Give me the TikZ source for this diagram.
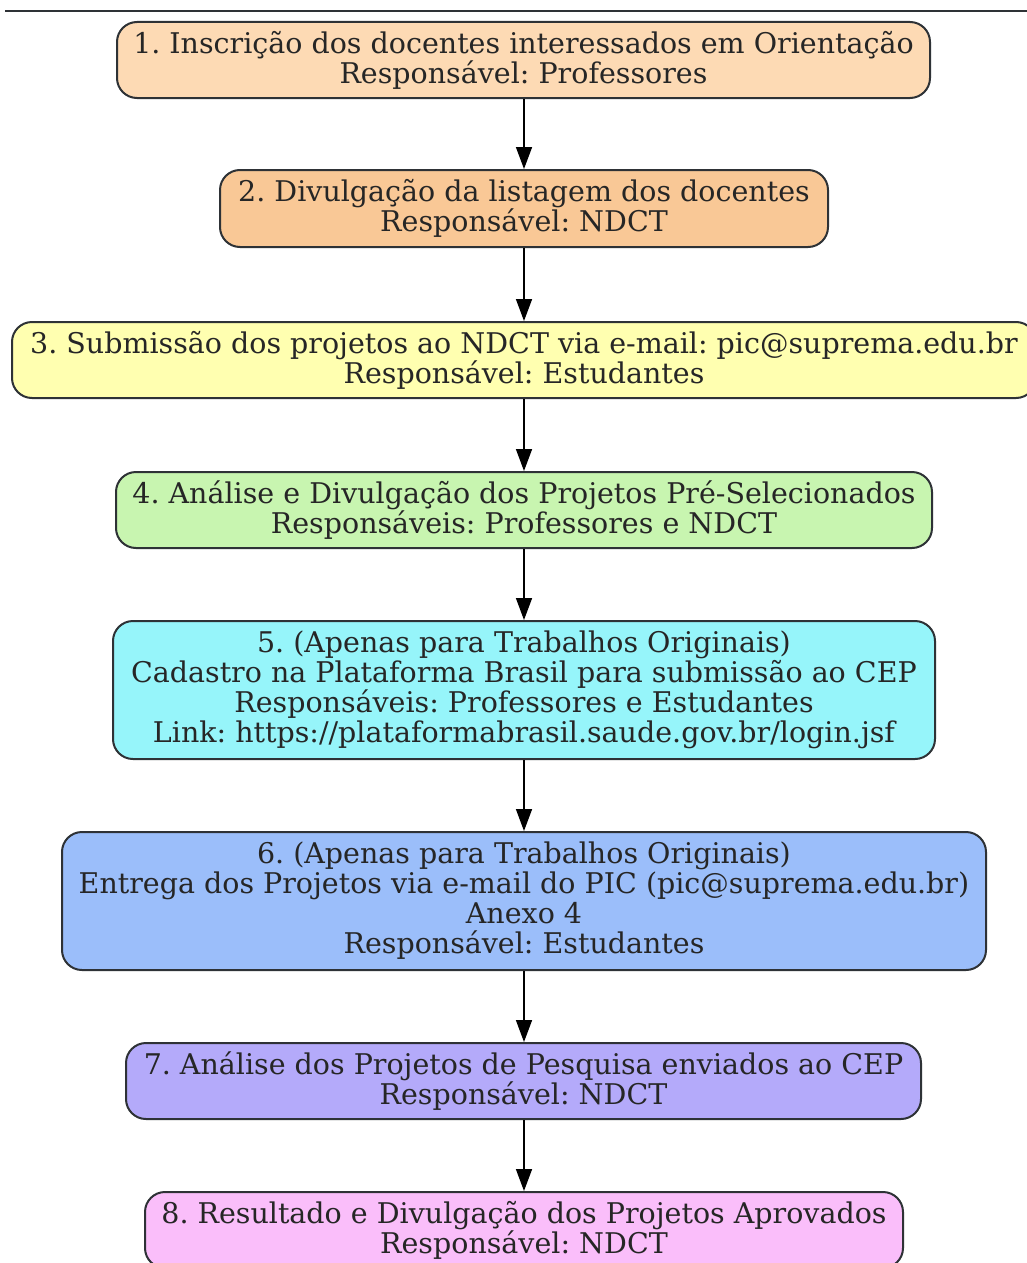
\documentclass[tikz,border=0pt]{standalone}
\usepackage{fontspec}
\setmainfont{DejaVu Serif}
\frenchspacing
\usetikzlibrary{arrows.meta}
\definecolor{c1}{HTML}{FDDAB4}
\definecolor{c2}{HTML}{F9C896}
\definecolor{c3}{HTML}{FFFFB0}
\definecolor{c4}{HTML}{C8F5B0}
\definecolor{c5}{HTML}{96F5FA}
\definecolor{c6}{HTML}{9BBEFA}
\definecolor{c7}{HTML}{B4AAFA}
\definecolor{c8}{HTML}{FABEFA}
\definecolor{edge}{HTML}{2E3236}
\tikzset{
  stepbox/.style={draw=edge, line width=2pt, rounded corners=20pt, inner sep=0pt,
    align=center, text=black!85, font=\fontsize{28.5}{30}\selectfont},
  flow/.style={draw=black, line width=1.6pt, -{Triangle[length=22pt,width=16pt]}}
}
\begin{document}
\begin{tikzpicture}[x=1pt,y=1pt]
\useasboundingbox (0,0) rectangle (1027,-1263);
\fill[white] (0,0) rectangle (1027,-1263);
\draw[edge, line width=2pt] (5,-11) -- (1027,-11);
\node[stepbox, fill=c1, minimum width=813pt, minimum height=76pt] (b1) at (523.5,-60)
  {1. Inscrição dos docentes interessados em Orientação\\Responsável: Professores};
\node[stepbox, fill=c2, minimum width=608pt, minimum height=77pt] (b2) at (524,-208.5)
  {2. Divulgação da listagem dos docentes\\Responsável: NDCT};
\node[stepbox, fill=c3, minimum width=1024pt, minimum height=76pt] (b3) at (524,-360)
  {3. Submissão dos projetos ao NDCT via e-mail: pic@suprema.edu.br\\Responsável: Estudantes};
\node[stepbox, fill=c4, minimum width=816pt, minimum height=76pt] (b4) at (524,-510)
  {4. Análise e Divulgação dos Projetos Pré-Selecionados\\Responsáveis: Professores e NDCT};
\node[stepbox, fill=c5, minimum width=822pt, minimum height=138pt] (b5) at (524,-690)
  {5. (Apenas para Trabalhos Originais)\\Cadastro na Plataforma Brasil para submissão ao CEP\\Responsáveis: Professores e Estudantes\\Link: https://plataformabrasil.saude.gov.br/login.jsf};
\node[stepbox, fill=c6, minimum width=924pt, minimum height=138pt] (b6) at (524,-901)
  {6. (Apenas para Trabalhos Originais)\\Entrega dos Projetos via e-mail do PIC (pic@suprema.edu.br)\\Anexo 4\\Responsável: Estudantes};
\node[stepbox, fill=c7, minimum width=795pt, minimum height=76pt] (b7) at (523.5,-1081)
  {7. Análise dos Projetos de Pesquisa enviados ao CEP\\Responsável: NDCT};
\node[stepbox, fill=c8, minimum width=758pt, minimum height=76pt] (b8) at (524,-1230)
  {8. Resultado e Divulgação dos Projetos Aprovados\\Responsável: NDCT};
\draw[flow] (b1.south -| 524,0) -- (b2.north -| 524,0);
\draw[flow] (b2.south -| 524,0) -- (b3.north -| 524,0);
\draw[flow] (b3.south -| 524,0) -- (b4.north -| 524,0);
\draw[flow] (b4.south -| 524,0) -- (b5.north -| 524,0);
\draw[flow] (b5.south -| 524,0) -- (b6.north -| 524,0);
\draw[flow] (b6.south -| 524,0) -- (b7.north -| 524,0);
\draw[flow] (b7.south -| 524,0) -- (b8.north -| 524,0);
\end{tikzpicture}
\end{document}
